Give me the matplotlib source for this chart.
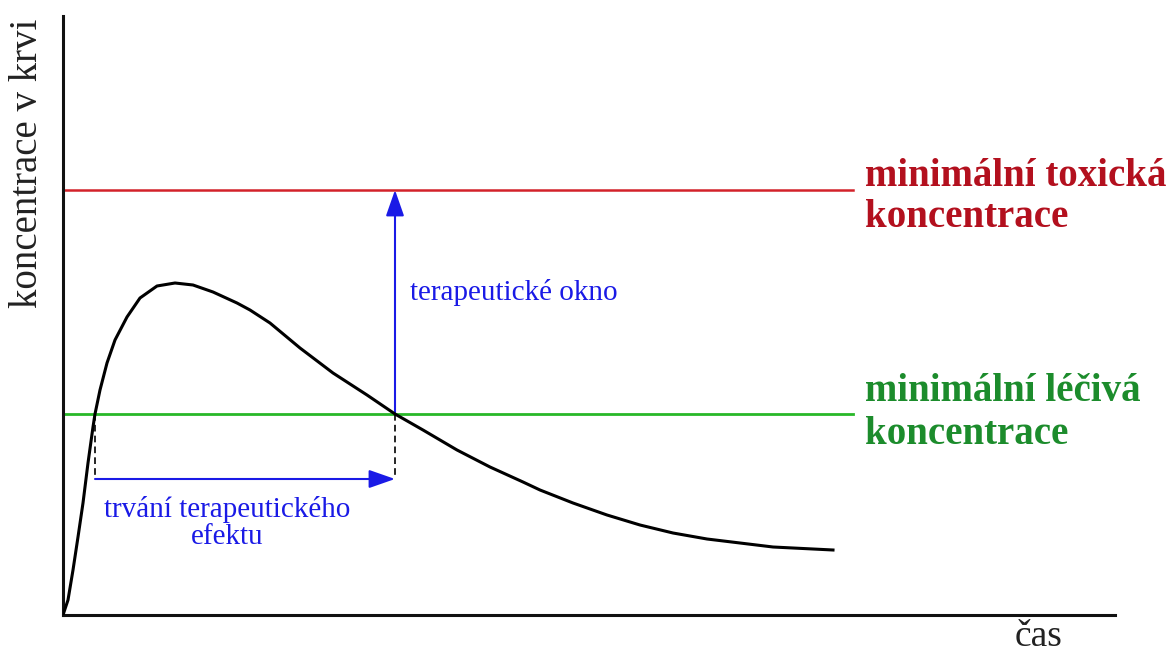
#!/usr/bin/env python3
"""Plasma concentration curve with therapeutic window (Czech labels)."""

import matplotlib
matplotlib.use("Agg")
import matplotlib.pyplot as plt

# curve (time, concentration), arbitrary units
time = [0.0, 0.05, 0.10, 0.15, 0.20, 0.25, 0.30, 0.32, 0.37, 0.44, 0.52, 0.64,
        0.77, 0.94, 1.12, 1.30, 1.50, 1.74, 1.87, 2.07, 2.37, 2.70, 3.04, 3.32,
        3.60, 3.94, 4.27, 4.60, 4.77, 5.10, 5.44, 5.77, 6.10, 6.44, 6.77, 7.10,
        7.70]
conc = [0.0, 0.15, 0.45, 0.78, 1.12, 1.52, 1.88, 2.01, 2.25, 2.52, 2.75, 2.98,
        3.17, 3.29, 3.32, 3.30, 3.23, 3.12, 3.05, 2.92, 2.67, 2.42, 2.20, 2.01,
        1.85, 1.65, 1.48, 1.33, 1.25, 1.12, 1.00, 0.90, 0.82, 0.76, 0.72, 0.68,
        0.65]

mtc = 4.25          # minimal toxic concentration
mec = 2.01          # minimal effective concentration
line_end = 7.90
t_on, t_off = 0.32, 3.32
duration_y = 1.36

RED_LINE = "#d3222a"
RED_TEXT = "#b3101e"
GREEN_LINE = "#28b828"
GREEN_TEXT = "#1c8c2c"
BLUE = "#1a1ae6"
SERIF = ["Liberation Serif", "DejaVu Serif"]

W, H = 1172, 655
fig = plt.figure(figsize=(W / 100, H / 100), dpi=100)
ax = fig.add_axes([63 / W, 40 / H, 1052 / W, 599 / H])
ax.set_xlim(0, 10.52)
ax.set_ylim(0, 5.99)
for side in ("top", "right"):
    ax.spines[side].set_visible(False)
for side in ("left", "bottom"):
    ax.spines[side].set_linewidth(2.2)
    ax.spines[side].set_color("#111111")
ax.set_xticks([])
ax.set_yticks([])

ax.plot(time, conc, color="black", lw=2.2, solid_joinstyle="round", zorder=4)
ax.plot([0, line_end], [mtc, mtc], color=RED_LINE, lw=1.8)
ax.plot([0, line_end], [mec, mec], color=GREEN_LINE, lw=2.0)

for t in (t_on, t_off):
    ax.plot([t, t], [mec, duration_y], color="black", lw=1.2, ls=(0, (4, 2.5)))

arrow = dict(arrowstyle="-|>,head_length=0.8,head_width=0.28", color=BLUE,
             lw=1.5, shrinkA=0, shrinkB=0, mutation_scale=20)
ax.annotate("", xy=(t_off, duration_y), xytext=(t_on, duration_y), arrowprops=arrow)
ax.annotate("", xy=(t_off, mtc), xytext=(t_off, mec), arrowprops=arrow)

ax.text(3.47, 3.22, "terapeutické okno", color=BLUE, fontsize=21,
        family=SERIF, ha="left", va="center")
ax.text(1.64, 0.92, "trvání terapeutického\nefektu", color=BLUE, fontsize=21,
        family=SERIF, ha="center", va="center", linespacing=1.05)

ax.text(8.02, 4.18, "minimální toxická\nkoncentrace", color=RED_TEXT, fontsize=28,
        family=SERIF, weight="bold", ha="left", va="center", linespacing=1.15,
        clip_on=False)
ax.text(8.02, 2.02, "minimální léčivá\nkoncentrace", color=GREEN_TEXT, fontsize=28,
        family=SERIF, weight="bold", ha="left", va="center", linespacing=1.18,
        clip_on=False)

ax.text(-0.35, 4.52, "koncentrace v krvi", fontsize=28, family=SERIF,
        rotation=90, ha="center", va="center", color="#222222", clip_on=False)
ax.text(9.76, -0.22, "čas", fontsize=27, family=SERIF, ha="center", va="center",
        color="#222222", clip_on=False)

fig.savefig("out.png", dpi=100)
